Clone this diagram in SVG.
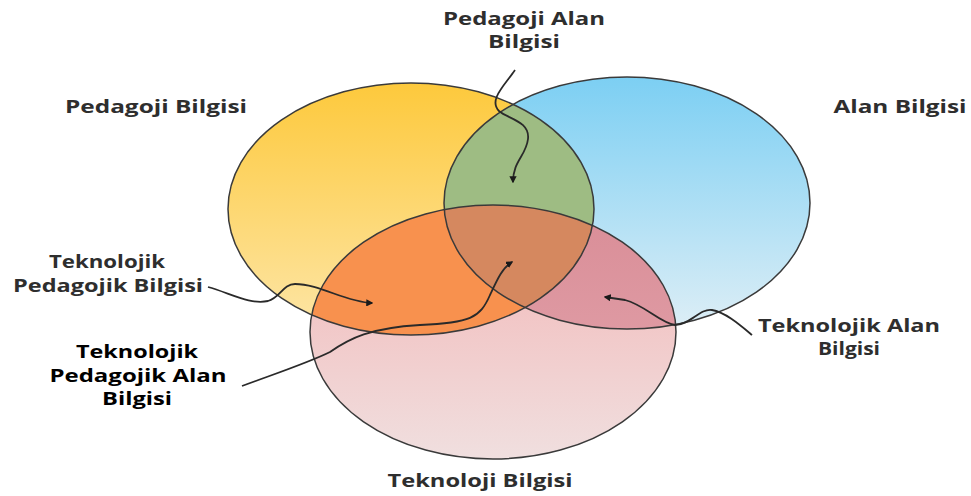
<svg xmlns="http://www.w3.org/2000/svg" width="971" height="496" viewBox="0 0 971 496">
<style>
.lbl{font-family:"Open Sans","Liberation Sans",sans-serif;font-size:18px;font-weight:700;fill:#2e2e2e;text-anchor:middle}
.bold{font-weight:700;fill:#000}
.outline{fill:none;stroke:#3a3a3a;stroke-width:1.5}
.conn{fill:none;stroke:#2a2a2a;stroke-width:1.8}
</style>
<defs>
<linearGradient id="gy" x1="0" y1="0" x2="0" y2="1"><stop offset="0" stop-color="#fdc93c"/><stop offset="1" stop-color="#fde6a8"/></linearGradient>
<linearGradient id="gb" x1="0" y1="0" x2="0" y2="1"><stop offset="0" stop-color="#7ccff3"/><stop offset="1" stop-color="#ddeef6"/></linearGradient>
<linearGradient id="gp" x1="0" y1="0" x2="0" y2="1"><stop offset="0" stop-color="#f3b4b4"/><stop offset="1" stop-color="#f0dfdf"/></linearGradient>
<linearGradient id="gbp" x1="0" y1="0" x2="0" y2="1"><stop offset="0" stop-color="#d98d97"/><stop offset="1" stop-color="#e4a6ae"/></linearGradient>
<clipPath id="cy"><ellipse cx="411" cy="209" rx="183" ry="126"/></clipPath>
<clipPath id="cb"><ellipse cx="627" cy="203" rx="183" ry="126"/></clipPath>
<marker id="arr" viewBox="0 0 10 10" refX="8" refY="5" markerWidth="4" markerHeight="4" orient="auto" markerUnits="strokeWidth"><path d="M0,0 L10,5 L0,10 z" fill="#1a1a1a"/></marker>
</defs>
<g id="pedagoji-bilgisi">
<ellipse cx="411" cy="209" rx="183" ry="126" fill="url(#gy)"/>
</g>
<g id="alan-bilgisi">
<ellipse cx="627" cy="203" rx="183" ry="126" fill="url(#gb)"/>
</g>
<g id="teknoloji-bilgisi">
<ellipse cx="493" cy="332" rx="183" ry="127" fill="url(#gp)"/>
</g>
<g id="pedagoji-alan-bilgisi">
<ellipse cx="627" cy="203" rx="183" ry="126" fill="#9ebc83" clip-path="url(#cy)"/>
</g>
<g id="teknolojik-pedagojik-bilgisi">
<ellipse cx="493" cy="332" rx="183" ry="127" fill="#f8914e" clip-path="url(#cy)"/>
</g>
<g id="teknolojik-alan-bilgisi">
<ellipse cx="493" cy="332" rx="183" ry="127" fill="url(#gbp)" clip-path="url(#cb)"/>
</g>
<g id="teknolojik-pedagojik-alan-bilgisi">
<g clip-path="url(#cb)"><ellipse cx="493" cy="332" rx="183" ry="127" fill="#d5885f" clip-path="url(#cy)"/></g>
</g>
<g id="outlines">
<ellipse class="outline" cx="411" cy="209" rx="183" ry="126"/>
<ellipse class="outline" cx="627" cy="203" rx="183" ry="126"/>
<ellipse class="outline" cx="493" cy="332" rx="183" ry="127"/>
</g>
<g id="connectors">
<path class="conn" d="M515,70 C505,85 488,100 499,111 C508,119 530,121 528,139 C526,156 513,161 513,182" marker-end="url(#arr)"/>
<path class="conn" d="M208,287 C230,293 250,305 268,301 C280,298 283,284 295,284 C320,284 345,302 372,303" marker-end="url(#arr)"/>
<path class="conn" d="M242,386 C280,372 310,362 330,352 C350,338 370,328 420,325 C470,323 480,318 490,295 C497,280 502,268 512,262" marker-end="url(#arr)"/>
<path class="conn" d="M752,335 C740,325 725,312 712,310 C700,308 690,325 675,325 C660,323 645,305 625,300 L605,297" marker-end="url(#arr)"/>
</g>
<g id="labels">
<text class="lbl" x="524" y="25" textLength="162" lengthAdjust="spacingAndGlyphs">Pedagoji Alan</text>
<text class="lbl" x="524" y="48" textLength="72" lengthAdjust="spacingAndGlyphs">Bilgisi</text>
<text class="lbl" x="156" y="113" textLength="182" lengthAdjust="spacingAndGlyphs">Pedagoji Bilgisi</text>
<text class="lbl" x="900" y="113" textLength="133" lengthAdjust="spacingAndGlyphs">Alan Bilgisi</text>
<text class="lbl" x="107" y="268" textLength="116" lengthAdjust="spacingAndGlyphs">Teknolojik</text>
<text class="lbl" x="108" y="292" textLength="190" lengthAdjust="spacingAndGlyphs">Pedagojik Bilgisi</text>
<text class="lbl bold" x="137" y="358" textLength="122" lengthAdjust="spacingAndGlyphs">Teknolojik</text>
<text class="lbl bold" x="138" y="382" textLength="177" lengthAdjust="spacingAndGlyphs">Pedagojik Alan</text>
<text class="lbl bold" x="137" y="405" textLength="70" lengthAdjust="spacingAndGlyphs">Bilgisi</text>
<text class="lbl" x="849" y="332" textLength="182" lengthAdjust="spacingAndGlyphs">Teknolojik Alan</text>
<text class="lbl" x="849" y="355" textLength="62" lengthAdjust="spacingAndGlyphs">Bilgisi</text>
<text class="lbl" x="480" y="487" textLength="185" lengthAdjust="spacingAndGlyphs">Teknoloji Bilgisi</text>
</g>
</svg>
